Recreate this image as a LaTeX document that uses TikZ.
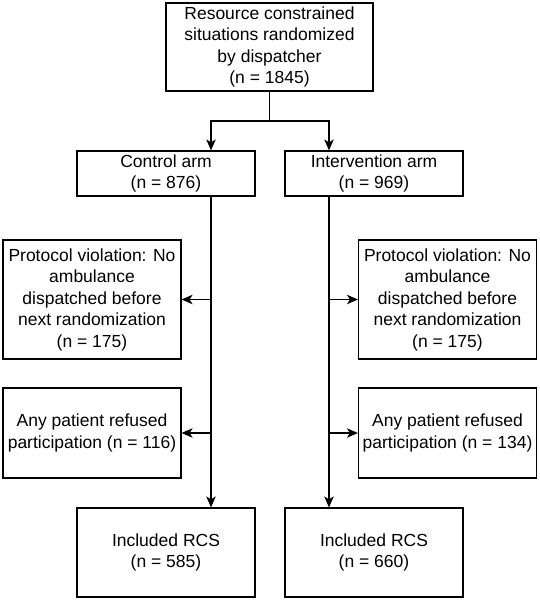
\documentclass[tikz,border=0pt]{standalone}
\usepackage{fontspec}
\setmainfont{Liberation Sans}
\usetikzlibrary{arrows.meta}
\usetikzlibrary{positioning}

\tikzset{
  box/.style={draw, line width=1.2pt, align=center, inner sep=0pt,
    minimum width=178pt, font=\fontsize{17.5}{21.5}\selectfont},
  arr/.style={line width=1.2pt, -{Stealth[length=11pt,width=9.5pt,inset=3pt]}},
}

\begin{document}
\begin{tikzpicture}[x=1pt,y=-1pt]
  \useasboundingbox (0,0) rectangle (540,600);
  % boxes
  \node[box, minimum width=207pt, minimum height=88pt] (rand) at (269.5,47)
    {Resource constrained\\situations randomized\\by dispatcher\\(n = 1845)};
  \node[box, minimum height=45pt] (ctrl) at (166,173.5) {Control arm\\(n = 876)};
  \node[box, minimum height=45pt] (intv) at (374,173.5) {Intervention arm\\(n = 969)};
  \node[box, minimum height=119pt] (violL) at (92,299.5)
    {Protocol violation: No\\ambulance\\dispatched before\\next randomization\\(n = 175)};
  \node[box, minimum height=119pt] (violR) at (447.5,299.5)
    {Protocol violation: No\\ambulance\\dispatched before\\next randomization\\(n = 175)};
  \node[box, minimum height=90pt] (refL) at (92,433)
    {Any patient refused\\participation (n = 116)};
  \node[box, minimum height=90pt] (refR) at (447.5,433)
    {Any patient refused\\participation (n = 134)};
  \node[box, minimum height=89pt] (inclL) at (166,552.5) {Included RCS\\(n = 585)};
  \node[box, minimum height=89pt] (inclR) at (374,552.5) {Included RCS\\(n = 660)};

  % split below the randomization
  \coordinate (splitL) at (211,121);
  \coordinate (splitR) at (329,121);
  \draw[line width=1.2pt] (rand.south) -- (rand.south |- splitL);
  \draw[arr] (rand.south |- splitL) -- (splitL) -- (splitL |- ctrl.north);
  \draw[arr] (rand.south |- splitR) -- (splitR) -- (splitR |- intv.north);

  % main flow
  \draw[arr] (splitL |- ctrl.south) -- (splitL |- inclL.north);
  \draw[arr] (splitR |- intv.south) -- (splitR |- inclR.north);

  % exclusions
  \draw[arr] (splitL |- violL.east) -- (violL.east);
  \draw[arr] (splitL |- refL.east) -- (refL.east);
  \draw[arr] (splitR |- violR.west) -- (violR.west);
  \draw[arr] (splitR |- refR.west) -- (refR.west);
\end{tikzpicture}
\end{document}
